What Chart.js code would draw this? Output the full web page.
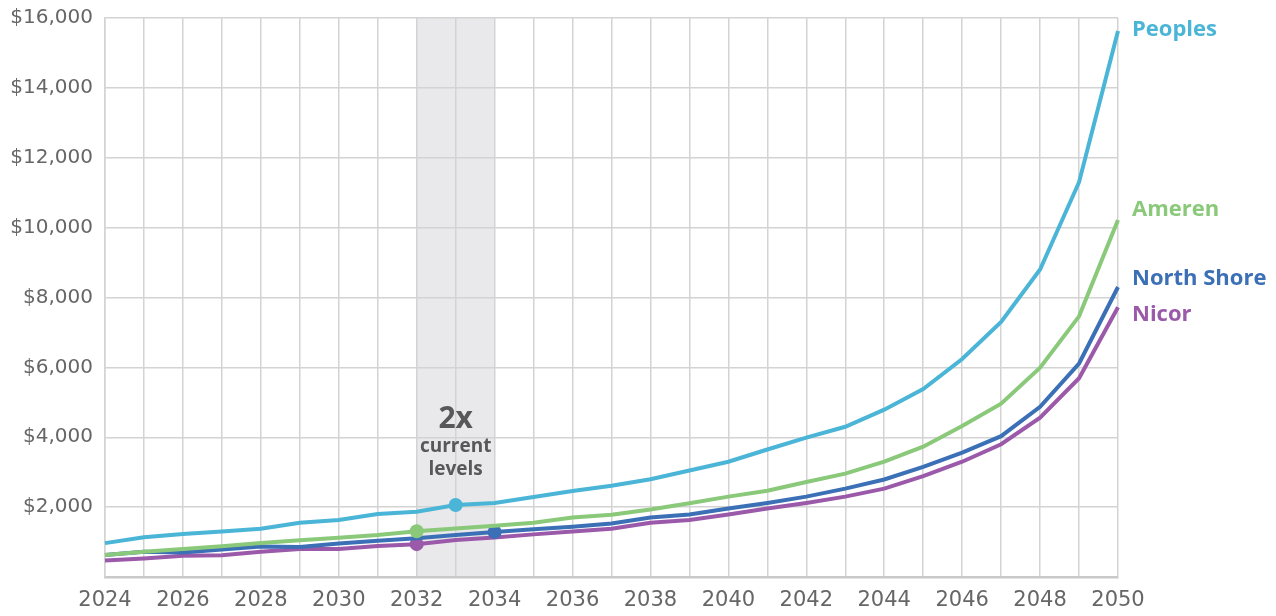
<!DOCTYPE html>
<html>
<head>
<meta charset="utf-8">
<script src="https://cdn.jsdelivr.net/npm/chart.js@4.4.1/dist/chart.umd.min.js"></script>
<style>
  html, body { margin: 0; padding: 0; background: #ffffff; }
  #wrap { position: relative; width: 1276px; height: 616px; }
</style>
</head>
<body>
<div id="wrap"><canvas id="chart" width="1276" height="616"></canvas></div>
<script>
// Years on the horizontal axis
const years = [2024, 2025, 2026, 2027, 2028, 2029, 2030, 2031, 2032, 2033, 2034, 2035, 2036,
  2037, 2038, 2039, 2040, 2041, 2042, 2043, 2044, 2045, 2046, 2047, 2048, 2049, 2050];

// Annual cost per utility ($)
const peoples = [970, 1140, 1230, 1300, 1380, 1550, 1630, 1800, 1870, 2060, 2120, 2290, 2460,
  2610, 2800, 3050, 3300, 3650, 3990, 4300, 4790, 5380, 6240, 7300, 8800, 11300, 15630];
const ameren = [630, 720, 800, 880, 970, 1050, 1120, 1200, 1310, 1390, 1470, 1550, 1700,
  1780, 1930, 2110, 2300, 2470, 2720, 2960, 3300, 3730, 4320, 4960, 5990, 7460, 10220];
const northShore = [630, 720, 700, 790, 870, 860, 960, 1040, 1110, 1200, 1290, 1370, 1440,
  1530, 1700, 1790, 1960, 2120, 2300, 2530, 2790, 3150, 3560, 4030, 4870, 6110, 8300];
const nicor = [470, 530, 610, 620, 720, 800, 800, 890, 940, 1060, 1130, 1220, 1300,
  1380, 1550, 1630, 1790, 1960, 2120, 2300, 2530, 2890, 3300, 3800, 4560, 5690, 7720];

// Year where each series first reaches twice its current level
const doubledYear = { Peoples: 2033, Ameren: 2032, 'North Shore': 2034, Nicor: 2032 };

// Band highlighting the period when costs double
const bandStart = 2032;
const bandEnd = 2034;

// Y-axis ticks
const yTicks = [0, 2000, 4000, 6000, 8000, 10000, 12000, 14000, 16000];

const colors = { Peoples: '#4ab5d6', Ameren: '#8ac97a', 'North Shore': '#3b6fb6', Nicor: '#9b59a9' };
const labelNudge = { Peoples: -1, Ameren: -10, 'North Shore': -8, Nicor: 7 };

function series(name, values) {
  return {
    label: name,
    data: values,
    borderColor: colors[name],
    backgroundColor: colors[name],
    borderWidth: 4,
    tension: 0,
    pointRadius: ctx => (years[ctx.dataIndex] === doubledYear[name] ? 7 : 0),
    pointHoverRadius: 0,
    pointBorderWidth: 0,
    clip: false
  };
}

const bandPlugin = {
  id: 'band',
  beforeDraw(chart) {
    const { ctx, chartArea, scales } = chart;
    const x0 = scales.x.getPixelForValue(years.indexOf(bandStart));
    const x1 = scales.x.getPixelForValue(years.indexOf(bandEnd));
    ctx.save();
    ctx.fillStyle = '#e9e9eb';
    ctx.fillRect(x0, chartArea.top, x1 - x0, chartArea.bottom - chartArea.top);
    ctx.restore();
  }
};

const textPlugin = {
  id: 'texts',
  afterDraw(chart) {
    const { ctx, chartArea, scales } = chart;
    ctx.save();
    // Note in the band
    const cx = scales.x.getPixelForValue(years.indexOf(2033));
    ctx.fillStyle = '#58585a';
    ctx.textAlign = 'center';
    ctx.textBaseline = 'middle';
    ctx.font = 'bold 30px "Open Sans"';
    ctx.fillText('2x', cx, 419);
    ctx.font = 'bold 19px "Open Sans"';
    ctx.fillText('current', cx, 447);
    ctx.fillText('levels', cx, 470);
    // Series names at the line ends
    ctx.textAlign = 'left';
    ctx.font = 'bold 22px "Open Sans"';
    chart.data.datasets.forEach(ds => {
      const last = ds.data[ds.data.length - 1];
      const y = scales.y.getPixelForValue(last) + labelNudge[ds.label];
      ctx.fillStyle = colors[ds.label];
      ctx.fillText(ds.label, chartArea.right + 14, y);
    });
    ctx.restore();
  }
};

new Chart(document.getElementById('chart'), {
  type: 'line',
  data: {
    labels: years,
    datasets: [
      series('Peoples', peoples),
      series('Ameren', ameren),
      series('North Shore', northShore),
      series('Nicor', nicor)
    ]
  },
  plugins: [bandPlugin, textPlugin],
  options: {
    responsive: false,
    animation: false,
    events: [],
    layout: { padding: { top: 18, right: 158, left: 0, bottom: 0 } },
    plugins: { legend: { display: false }, tooltip: { enabled: false } },
    scales: {
      x: {
        offset: false,
        grid: { color: '#d3d3d3', lineWidth: 1.5, drawTicks: false },
        border: { color: '#c9c9c9', width: 2.5 },
        ticks: {
          autoSkip: false,
          maxRotation: 0,
          color: '#666666',
          padding: 11,
          font: { family: '"DejaVu Sans"', size: 21 },
          callback: (v, i) => (years[i] % 2 === 0 ? String(years[i]) : '')
        },
        afterFit: s => { s.height = 39; s.paddingLeft = 0; s.paddingRight = 0; }
      },
      y: {
        min: 0,
        max: 16000,
        afterBuildTicks: s => { s.ticks = yTicks.map(v => ({ value: v })); },
        grid: { color: '#d3d3d3', lineWidth: 1.5, drawTicks: false },
        border: { color: '#d3d3d3', width: 1.5 },
        ticks: {
          color: '#666666',
          padding: 12,
          font: { family: '"DejaVu Sans"', size: 20 },
          callback: v => (v === 0 ? '' : '$' + v.toLocaleString('en-US'))
        },
        afterFit: s => { s.width = 105; s.paddingTop = 0; s.paddingBottom = 0; }
      }
    }
  }
});
</script>
</body>
</html>
